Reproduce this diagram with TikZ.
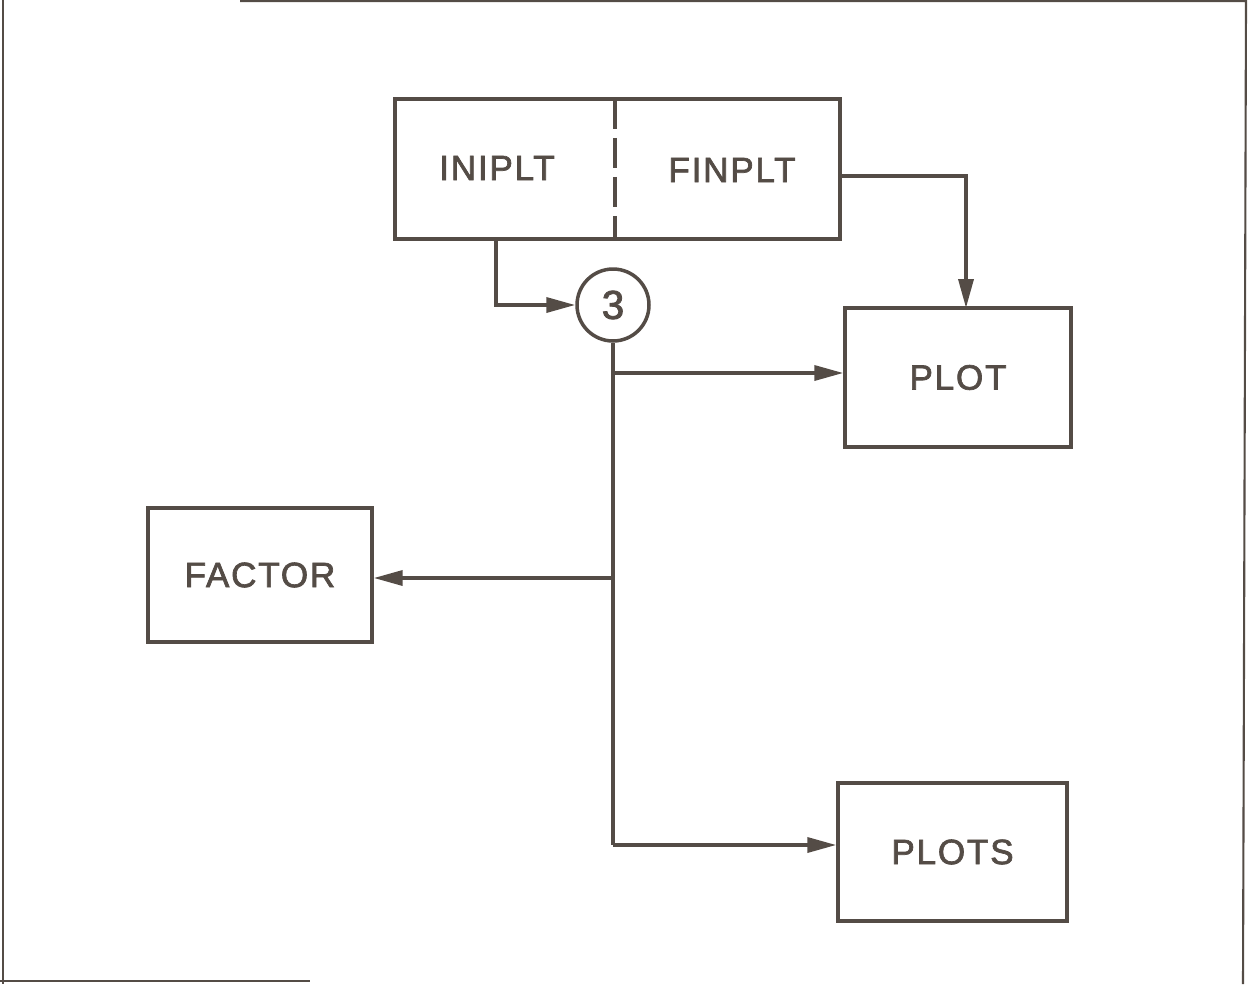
\documentclass[tikz,border=0pt]{standalone}
\usepackage{fontspec}
\setmainfont{Liberation Sans}[LetterSpace=5,FakeBold=2]
\usetikzlibrary{arrows.meta}
\definecolor{ink}{HTML}{544C46}
\begin{document}
\begin{tikzpicture}[x=0.02cm,y=-0.02cm,
  ink line/.style={draw=ink,line width=2pt},
  lbl/.style={text=ink,font=\fontsize{20}{23}\selectfont},
  blk/.style={ink line,rectangle,inner sep=0pt,lbl},
  arr/.style={ink line,-{Triangle[length=0.58cm,width=0.3cm]}}]
\useasboundingbox (0,0) rectangle (1251,984);
% frame
\draw[draw=ink,line width=1.4pt] (3,0) -- (3,984);
\draw[draw=ink,line width=1.2pt] (240,1) -- (1246,1) -- (1243,984);
\draw[draw=ink,line width=1.6pt] (0,981) -- (310,981);
% boxes
\node[blk,minimum width=8.9cm,minimum height=2.8cm] (top) at (617.5,169) {};
\node[lbl] (ini) at (497,168) {INIPLT};
\node[lbl] (fin) at (732,170) {FINPLT};
\coordinate (dt) at (615,99);
\coordinate (db) at (615,239);
\draw[ink line,dash pattern=on 0.6cm off 0.18cm] (dt) -- (db);
\node[blk,minimum width=4.52cm,minimum height=2.78cm] (plot) at (958,377.5) {PLOT};
\node[blk,minimum width=4.48cm,minimum height=2.68cm] (factor) at (260,575) {FACTOR};
\node[blk,minimum width=4.58cm,minimum height=2.76cm] (plots) at (952.5,852) {PLOTS};
\node[ink line,circle,minimum size=1.44cm,inner sep=0pt,text=ink,font=\fontsize{23}{26}\selectfont] (c3) at (613,305) {3};
% connectors
\coordinate (t1) at (496,239);
\draw[arr] (t1) |- (c3.west);
\coordinate (f1) at (840,176);
\coordinate (p1) at (966,308);
\draw[arr] (f1) -| (p1);
\coordinate (b0) at (613,845);
\draw[ink line] (c3.south) -- (b0);
\coordinate (j1) at (613,373);
\coordinate (j2) at (613,578);
\draw[arr] (j1) -- (j1 -| plot.west);
\draw[arr] (j2) -- (j2 -| factor.east);
\draw[arr] (b0) -- (b0 -| plots.west);
\end{tikzpicture}
\end{document}
